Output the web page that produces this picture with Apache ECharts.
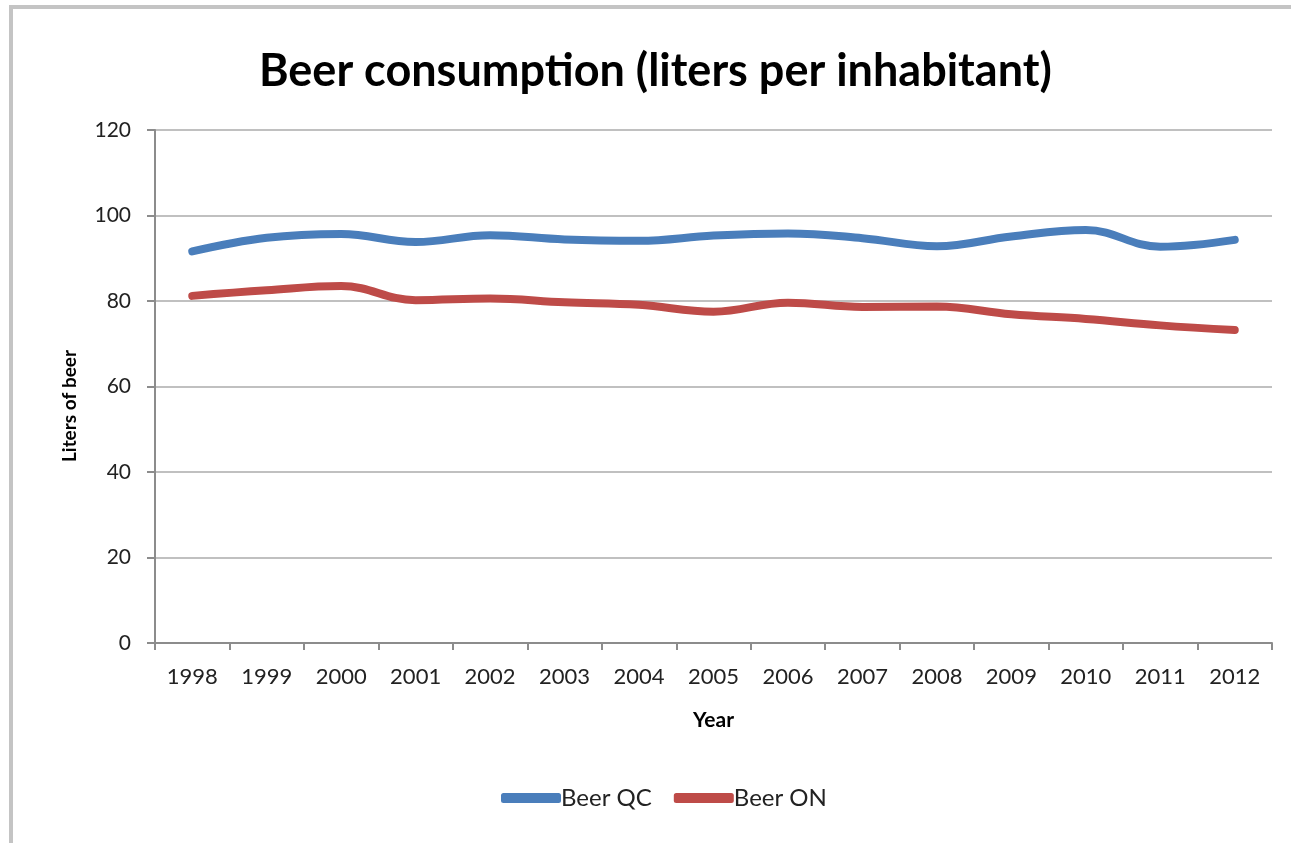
<!DOCTYPE html>
<html>
<head>
<meta charset="utf-8">
<script src="https://cdn.jsdelivr.net/npm/echarts@6/dist/echarts.min.js"></script>
<style>
  html, body { margin: 0; padding: 0; background: #ffffff; }
  #chart { width: 1291px; height: 843px; }
</style>
</head>
<body>
<div id="chart"></div>
<script>
// Annual beer consumption per inhabitant, Quebec vs Ontario
const years = ['1998', '1999', '2000', '2001', '2002', '2003', '2004', '2005',
               '2006', '2007', '2008', '2009', '2010', '2011', '2012'];
const beerQC = [91.6, 94.8, 95.7, 93.8, 95.4, 94.4, 94.1, 95.3, 95.8, 94.7, 92.8, 95.1, 96.6, 92.7, 94.3];
const beerON = [81.2, 82.5, 83.5, 80.2, 80.6, 79.7, 79.1, 77.5, 79.6, 78.6, 78.7, 76.9, 75.8, 74.3, 73.2];
const yTicks = [0, 20, 40, 60, 80, 100, 120];

const font = 'Lato, "Open Sans", sans-serif';
const chart = echarts.init(document.getElementById('chart'), null, { renderer: 'canvas' });

chart.setOption({
  backgroundColor: '#ffffff',
  animation: false,
  graphic: [
    // frame edges along the top and left
    { type: 'rect', shape: { x: 9, y: 5, width: 1282, height: 4 }, style: { fill: '#c4c4c4' } },
    { type: 'rect', shape: { x: 9, y: 5, width: 4, height: 838 }, style: { fill: '#c4c4c4' } },
    // vertical axis title
    {
      type: 'text',
      x: 70, y: 406,
      rotation: Math.PI / 2,
      style: {
        text: 'Liters of beer',
        font: 'bold 19px ' + font,
        fill: '#000000',
        align: 'center',
        verticalAlign: 'middle'
      }
    }
  ],
  title: {
    text: 'Beer consumption (liters per inhabitant)',
    left: 254,
    top: 44,
    textStyle: { fontFamily: font, fontWeight: 'bold', fontSize: 45, color: '#000000' }
  },
  legend: {
    bottom: 28,
    left: 496,
    itemWidth: 60,
    itemHeight: 10,
    itemGap: 22,
    icon: 'roundRect',
    textStyle: { fontFamily: font, fontSize: 24, color: '#222222', padding: [0, 0, 0, -5] },
    data: ['Beer QC', 'Beer ON']
  },
  grid: { left: 155, right: 19, top: 130, bottom: 200, containLabel: false },
  xAxis: {
    type: 'category',
    data: years,
    boundaryGap: true,
    name: 'Year',
    nameLocation: 'middle',
    nameGap: 67,
    nameTextStyle: { fontFamily: font, fontWeight: 'bold', fontSize: 21, color: '#000000' },
    axisLine: { lineStyle: { color: '#8c8c8c', width: 2 } },
    axisTick: { show: true, length: 7, lineStyle: { color: '#8c8c8c', width: 2 } },
    axisLabel: { fontFamily: font, fontSize: 22, color: '#222222', margin: 23 },
    splitLine: { show: false }
  },
  yAxis: {
    type: 'value',
    min: yTicks[0],
    max: yTicks[yTicks.length - 1],
    interval: 20,
    axisLine: { show: true, lineStyle: { color: '#8c8c8c', width: 2 } },
    axisTick: { show: true, inside: false, length: 8, lineStyle: { color: '#8c8c8c', width: 2 } },
    axisLabel: { fontFamily: font, fontSize: 21, color: '#222222', margin: 24 },
    splitLine: { show: true, lineStyle: { color: '#c0c0c0', width: 2 } }
  },
  series: [
    {
      name: 'Beer QC',
      type: 'line',
      data: beerQC,
      smooth: 0.4,
      symbol: 'none',
      color: '#4a7ebb',
      lineStyle: { width: 8, color: '#4a7ebb', cap: 'round' }
    },
    {
      name: 'Beer ON',
      type: 'line',
      data: beerON,
      smooth: 0.4,
      symbol: 'none',
      color: '#be4b48',
      lineStyle: { width: 8, color: '#be4b48', cap: 'round' }
    }
  ]
});
</script>
</body>
</html>
